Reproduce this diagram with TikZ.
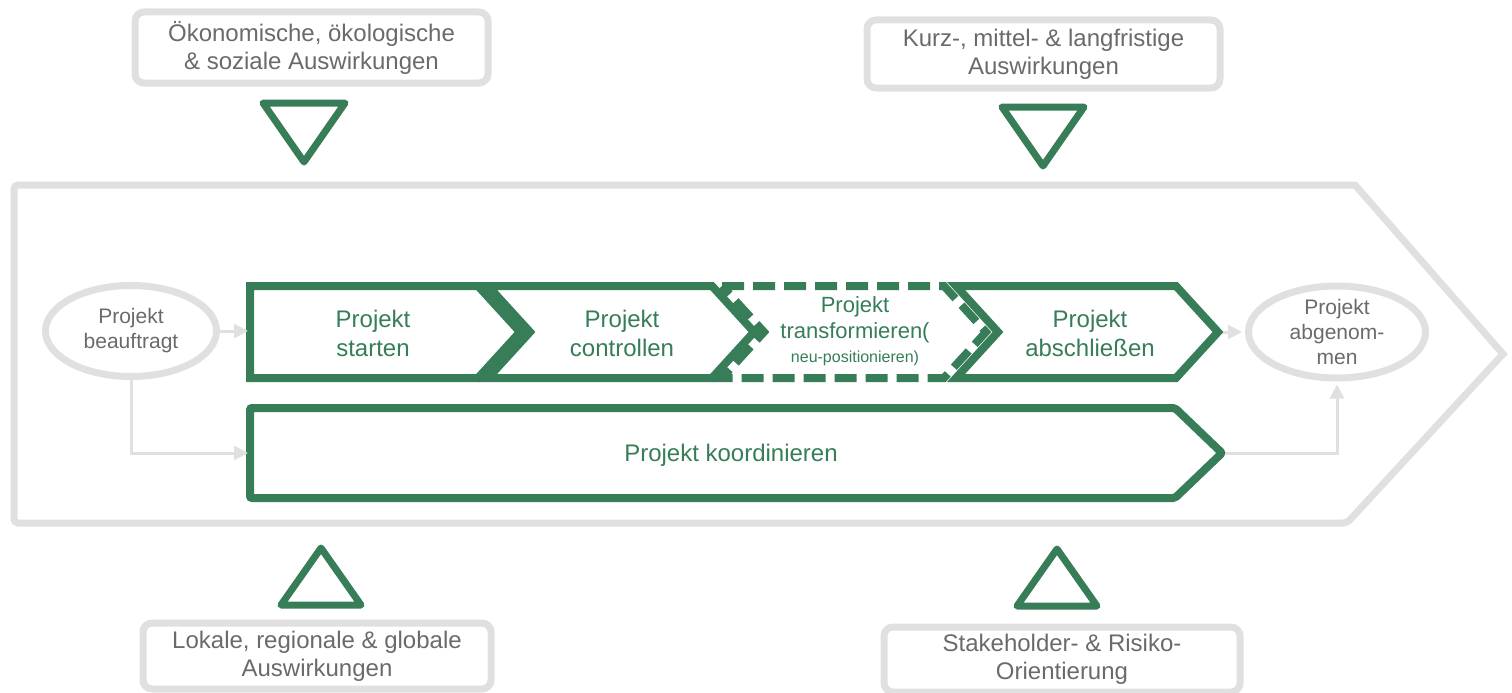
\documentclass[tikz,border=0pt]{standalone}
\usepackage{fontspec}
\setmainfont{Liberation Sans}
\usetikzlibrary{arrows.meta,shapes.geometric}
\definecolor{gruen}{RGB}{54,125,88}
\definecolor{hellgrau}{RGB}{223,224,223}
\definecolor{textgrau}{RGB}{105,106,105}
\begin{document}
\begin{tikzpicture}[x=1pt,y=-1pt,>={Triangle[length=14pt,width=14pt]},
	rahmen/.style={hellgrau,line width=7pt},
	pfeil/.style={hellgrau,line width=3pt,->},
	kette/.style={gruen,line width=8pt},
	dreieck/.style={gruen,line width=7pt,line join=round},
	oval/.style={ellipse,draw=hellgrau,line width=7pt,inner sep=0pt},
	ovaltext/.style={text=textgrau,align=center,font=\fontsize{21}{25}\selectfont},
	kasten/.style={draw=hellgrau,line width=7pt,rounded corners=9pt,text=textgrau,align=center,inner sep=0pt,font=\fontsize{24}{28}\selectfont},
	schritt/.style={text=gruen,align=center,font=\fontsize{24}{29}\selectfont}]
	\useasboundingbox (0,0) rectangle (1512,693);
	\draw[rahmen] (1503,354) -- (1355,185) [rounded corners=4pt] -- (14,185) -- (14,523) -- (1347,523) [sharp corners] -- cycle;
	% Kaesten oben und unten
	\node[kasten,minimum width=353pt,minimum height=71pt] (oek) at (311.5,47.5) {Ökonomische, ökologische\\\& soziale Auswirkungen};
	\node[kasten,minimum width=353pt,minimum height=68pt] (kml) at (1043.5,54) {Kurz-, mittel- \& langfristige\\Auswirkungen};
	\node[kasten,minimum width=348pt,minimum height=66pt] (lrg) at (317,656) {Lokale, regionale \& globale\\Auswirkungen};
	\node[kasten,minimum width=356pt,minimum height=65pt] (sro) at (1062,659.5) {Stakeholder- \& Risiko-\\Orientierung};
	\foreach \x/\y in {304/103,1043/107}{
		\draw[dreieck] (\x-41,\y) -- (\x+41,\y) -- (\x,\y+59) -- cycle;%nach unten
	}
	\foreach \x/\y in {321/605,1057/606}{
		\draw[dreieck] (\x-40,\y) -- (\x+40,\y) -- (\x,\y-57) -- cycle;%nach oben
	}
	% Prozesskette
	\draw[kette] (250,286) -- (478,286) -- (520,332) -- (478,378) -- (250,378) -- cycle;
	\foreach \a/\b in {488/712,956/1176}{
		\draw[kette] (\a,286) -- (\b,286) -- (\b+42,332) -- (\b,378) -- (\a,378) -- (\a+42,332) -- cycle;
	}
	\draw[kette,dash pattern=on 22pt off 9pt] (722,286) -- (944,286) -- (986,332) -- (944,378) -- (722,378) -- (764,332) -- cycle;
	\draw[kette,rounded corners=2pt] (1175,408) -- (250,408) -- (250,498) -- (1175,498) -- (1222,453) -- cycle;
	\node[schritt] (st) at (373,333) {Projekt\\starten};
	\node[schritt] (co) at (622,333) {Projekt\\controllen};
	\node[schritt,font=\fontsize{22}{26}\selectfont] (tr) at (855,320) {Projekt\\transformieren(};
	\node[text=gruen,font=\fontsize{16}{18}\selectfont] (np) at (855,358) {neu-positionieren)};
	\node[schritt] (ab) at (1090,333) {Projekt\\abschließen};
	\node[schritt] (ko) at (731,455) {Projekt koordinieren};
	% Start und Ende
	\node[oval,minimum width=171pt,minimum height=91pt] (pb) at (131,331) {};
	\node[ovaltext] at (pb) {Projekt\\beauftragt};
	\node[oval,minimum width=177pt,minimum height=92pt] (pa) at (1337,332) {};
	\node[ovaltext] at (pa) {Projekt\\abgenom-\\men};
	\coordinate (stL) at (248,331);
	\coordinate (koL) at (248,453);
	\coordinate (abR) at (1223,332);
	\coordinate (koR) at (1226,453);
	\draw[pfeil] (pb.east) -- (stL);
	\draw[pfeil] (pb.south) |- (koL);
	\draw[pfeil,shorten >=3pt] (abR) -- (pa.west);
	\draw[pfeil,shorten >=3pt] (koR) -| (pa.south);
\end{tikzpicture}
\end{document}
